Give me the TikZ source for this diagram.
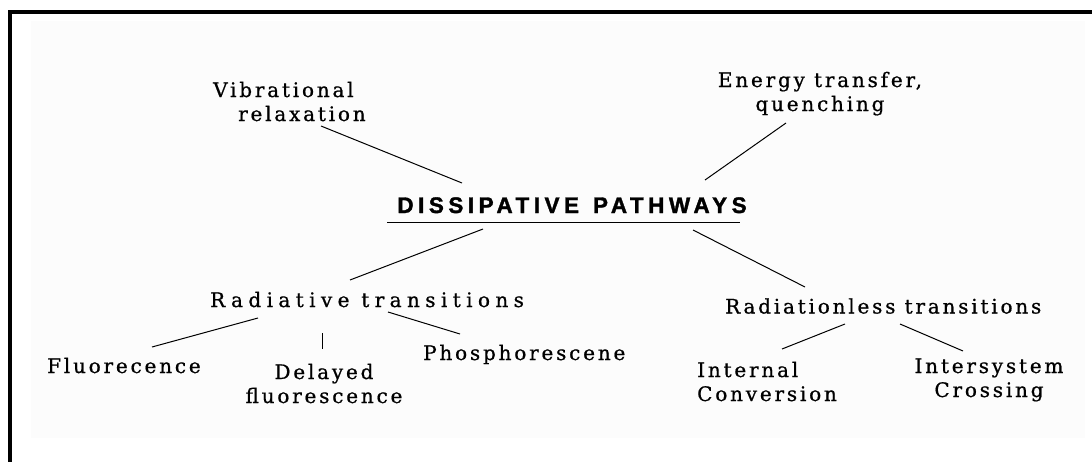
\documentclass[tikz,border=0pt]{standalone}
\usepackage{fontspec}
\setmainfont{DejaVu Serif}[LetterSpace=14, FakeBold=0.8]
\newfontfamily\dpfont{Liberation Sans Bold}[LetterSpace=20, FakeBold=1.5]
\usetikzlibrary{calc}
\tikzset{
  lbl/.style={inner sep=0pt, font=\fontsize{20}{24}\selectfont},
  conn/.style={draw=black, line width=1pt},
}
\begin{document}
\begin{tikzpicture}[x=1pt,y=-1pt]
\useasboundingbox (0,0) rectangle (1092,461);
\fill[fill={rgb,255:red,252;green,252;blue,252}] (31,21) rectangle (1085,438);
\draw[line width=4pt, line join=miter] (10,470) -- (10,12) -- (1100,12);

\node[lbl, anchor=base west] (vib) at (213,97)
  {\begin{tabular}[t]{@{}l@{}}Vibrational\\\hspace*{25pt}relaxation\end{tabular}};
\node[lbl, anchor=base] (energy) at (820,87)
  {\begin{tabular}[t]{@{}c@{}}Energy transfer,\\quenching\end{tabular}};
\node[inner sep=0pt, anchor=base, font=\dpfont\fontsize{22.5}{26}\selectfont] (dp) at (572,213)
  {DISSIPATIVE\hspace{14pt}PATHWAYS};
\node[lbl, anchor=base west] (rad) at (210,307) {\addfontfeature{LetterSpace=27}Radiative transitions};
\node[lbl, anchor=base west] (rless) at (725,313.5) {Radiationless transitions};
\node[lbl, anchor=base west] (fluo) at (47,373) {Fluorecence};
\node[lbl, anchor=base] (delayed) at (324,379)
  {\begin{tabular}[t]{@{}c@{}}Delayed\\fluorescence\end{tabular}};
\node[lbl, anchor=base west] (phos) at (423,360) {Phosphorescene};
\node[lbl, anchor=base west] (internal) at (697,377)
  {\begin{tabular}[t]{@{}l@{}}Internal\\Conversion\end{tabular}};
\node[lbl, anchor=base] (inter) at (989,373)
  {\begin{tabular}[t]{@{}c@{}}Intersystem\\Crossing\end{tabular}};

\draw[conn] ($(dp.base)+(-185,9)$) -- ($(dp.base)+(168,9)$);

\draw[conn] ($(vib.base west)+(108,29)$) -- ($(dp.base)+(-110,-30)$);
\draw[conn] ($(energy.base)+(-34,36)$) -- ($(dp.base)+(133,-33)$);
\draw[conn] ($(dp.base)+(-89,16)$) -- ($(rad.base west)+(140,-27)$);
\draw[conn] ($(dp.base)+(121,17)$) -- ($(rless.base west)+(80,-26.5)$);
\draw[conn] ($(rad.base west)+(48,11)$) -- ($(fluo.base west)+(105,-26)$);
\draw[conn] ($(rad.base west)+(112,26)$) -- ($(delayed.base)+(-2,-30)$);
\draw[conn] ($(rad.base west)+(178,5)$) -- ($(phos.base west)+(37,-26)$);
\draw[conn] ($(rless.base west)+(120,10.5)$) -- ($(internal.base west)+(85,-28)$);
\draw[conn] ($(rless.base west)+(175,10.5)$) -- ($(inter.base)+(-26,-22)$);
\end{tikzpicture}
\end{document}
